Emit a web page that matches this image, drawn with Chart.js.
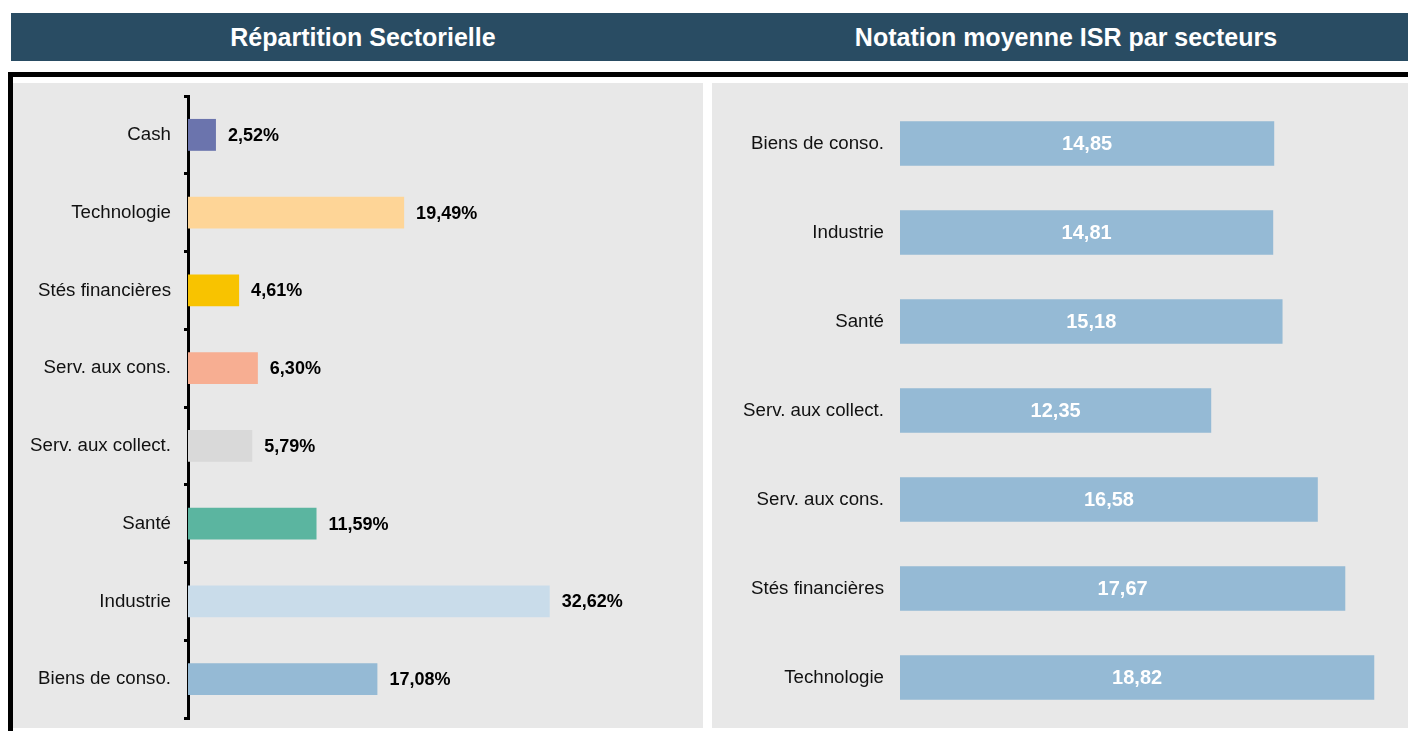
<!DOCTYPE html>
<html lang="fr">
<head>
<meta charset="UTF-8">
<title>Répartition sectorielle - Notation ISR</title>
<script src="https://cdn.jsdelivr.net/npm/chart.js"></script>
<style>
    body { margin: 0; width: 1408px; height: 731px; background: #fff; position: relative; overflow: hidden;
           font-family: "Liberation Sans", Arial, sans-serif; }
    .header { position: absolute; left: 11px; top: 13px; width: 1397px; height: 48px; background: #294c63; }
    .title { position: absolute; top: 0; width: 600px; height: 48px; line-height: 48px; color: #fff;
             font-weight: bold; font-size: 25px; text-align: center; }
    .frame-top { position: absolute; left: 8px; top: 72px; width: 1400px; height: 5px; background: #000; }
    .frame-left { position: absolute; left: 8px; top: 72px; width: 5px; height: 659px; background: #000; }
    .panel { position: absolute; top: 83px; height: 645px; background: #e8e8e8; }
    .panel canvas { display: block; }
</style>
</head>
<body>
    <div class="header">
        <div class="title" style="left: 52px;">Répartition Sectorielle</div>
        <div class="title" style="left: 755px;">Notation moyenne ISR par secteurs</div>
    </div>
    <div class="frame-top"></div>
    <div class="frame-left"></div>

    <div class="panel" style="left: 13px; width: 690px;">
        <canvas id="repChart" width="690" height="645"></canvas>
    </div>
    <div class="panel" style="left: 712px; width: 696px;">
        <canvas id="isrChart" width="696" height="645"></canvas>
    </div>

<script>
    // répartition sectorielle (%)
    const secteursRep = ['Cash', 'Technologie', 'Stés financières', 'Serv. aux cons.', 'Serv. aux collect.', 'Santé', 'Industrie', 'Biens de conso.'];
    const poidsRep = [2.52, 19.49, 4.61, 6.30, 5.79, 11.59, 32.62, 17.08];
    const couleursRep = ['#6b74ad', '#fed597', '#f8c300', '#f7ae92', '#d9d9d9', '#5bb5a0', '#c9dcea', '#95bad5'];

    // notation moyenne ISR
    const secteursIsr = ['Biens de conso.', 'Industrie', 'Santé', 'Serv. aux collect.', 'Serv. aux cons.', 'Stés financières', 'Technologie'];
    const notesIsr = [14.85, 14.81, 15.18, 12.35, 16.58, 17.67, 18.82];

    const police = '"Liberation Sans", Arial, sans-serif';
    const virgule = v => v.toFixed(2).replace('.', ',');

    // largeur fixe de l'axe, sans marge ajoutée pour les libellés
    const axeFixe = largeur => s => {
        s.width = largeur;
        s.paddingTop = 0;
        s.paddingBottom = 0;
    };

    // étiquettes de valeurs
    const etiquettesRep = {
        id: 'etiquettesRep',
        afterDatasetsDraw(chart) {
            const ctx = chart.ctx;
            ctx.save();
            ctx.font = 'bold 18px ' + police;
            ctx.fillStyle = '#000';
            ctx.textAlign = 'left';
            ctx.textBaseline = 'middle';
            chart.getDatasetMeta(0).data.forEach((bar, i) => {
                ctx.fillText(virgule(poidsRep[i]) + '%', bar.x + 12, bar.y + 1);
            });
            ctx.restore();
        }
    };

    const etiquettesIsr = {
        id: 'etiquettesIsr',
        afterDatasetsDraw(chart) {
            const ctx = chart.ctx;
            ctx.save();
            ctx.font = 'bold 20px ' + police;
            ctx.fillStyle = '#fff';
            ctx.textAlign = 'center';
            ctx.textBaseline = 'middle';
            chart.getDatasetMeta(0).data.forEach((bar, i) => {
                ctx.fillText(virgule(notesIsr[i]), (bar.x + bar.base) / 2, bar.y + 1);
            });
            ctx.restore();
        }
    };

    new Chart(document.getElementById('repChart'), {
        type: 'bar',
        data: {
            labels: secteursRep,
            datasets: [{
                data: poidsRep,
                backgroundColor: couleursRep,
                categoryPercentage: 1,
                barPercentage: 0.41
            }]
        },
        options: {
            indexAxis: 'y',
            responsive: false,
            animation: false,
            layout: { padding: { top: 13, bottom: 10, right: 16, left: 0 } },
            plugins: { legend: { display: false }, tooltip: { enabled: false } },
            scales: {
                x: { display: false, min: 0, max: 45 },
                y: {
                    afterFit: axeFixe(175),
                    border: { display: true, color: '#000', width: 3 },
                    grid: { display: true, drawOnChartArea: false, drawTicks: true, tickLength: 4, lineWidth: 3, color: '#000', offset: true },
                    ticks: { color: '#111', padding: 13, font: { size: 18.7, family: police } }
                }
            }
        },
        plugins: [etiquettesRep]
    });

    new Chart(document.getElementById('isrChart'), {
        type: 'bar',
        data: {
            labels: secteursIsr,
            datasets: [{
                data: notesIsr,
                backgroundColor: '#95bad5',
                categoryPercentage: 1,
                barPercentage: 0.5
            }]
        },
        options: {
            indexAxis: 'y',
            responsive: false,
            animation: false,
            layout: { padding: { top: 16, bottom: 6, right: 4, left: 0 } },
            plugins: { legend: { display: false }, tooltip: { enabled: false } },
            scales: {
                x: { display: false, min: 0, max: 20 },
                y: {
                    afterFit: axeFixe(188),
                    border: { display: false },
                    grid: { display: false, drawTicks: false },
                    ticks: { color: '#111', padding: 16, font: { size: 18.7, family: police } }
                }
            }
        },
        plugins: [etiquettesIsr]
    });
</script>
</body>
</html>
